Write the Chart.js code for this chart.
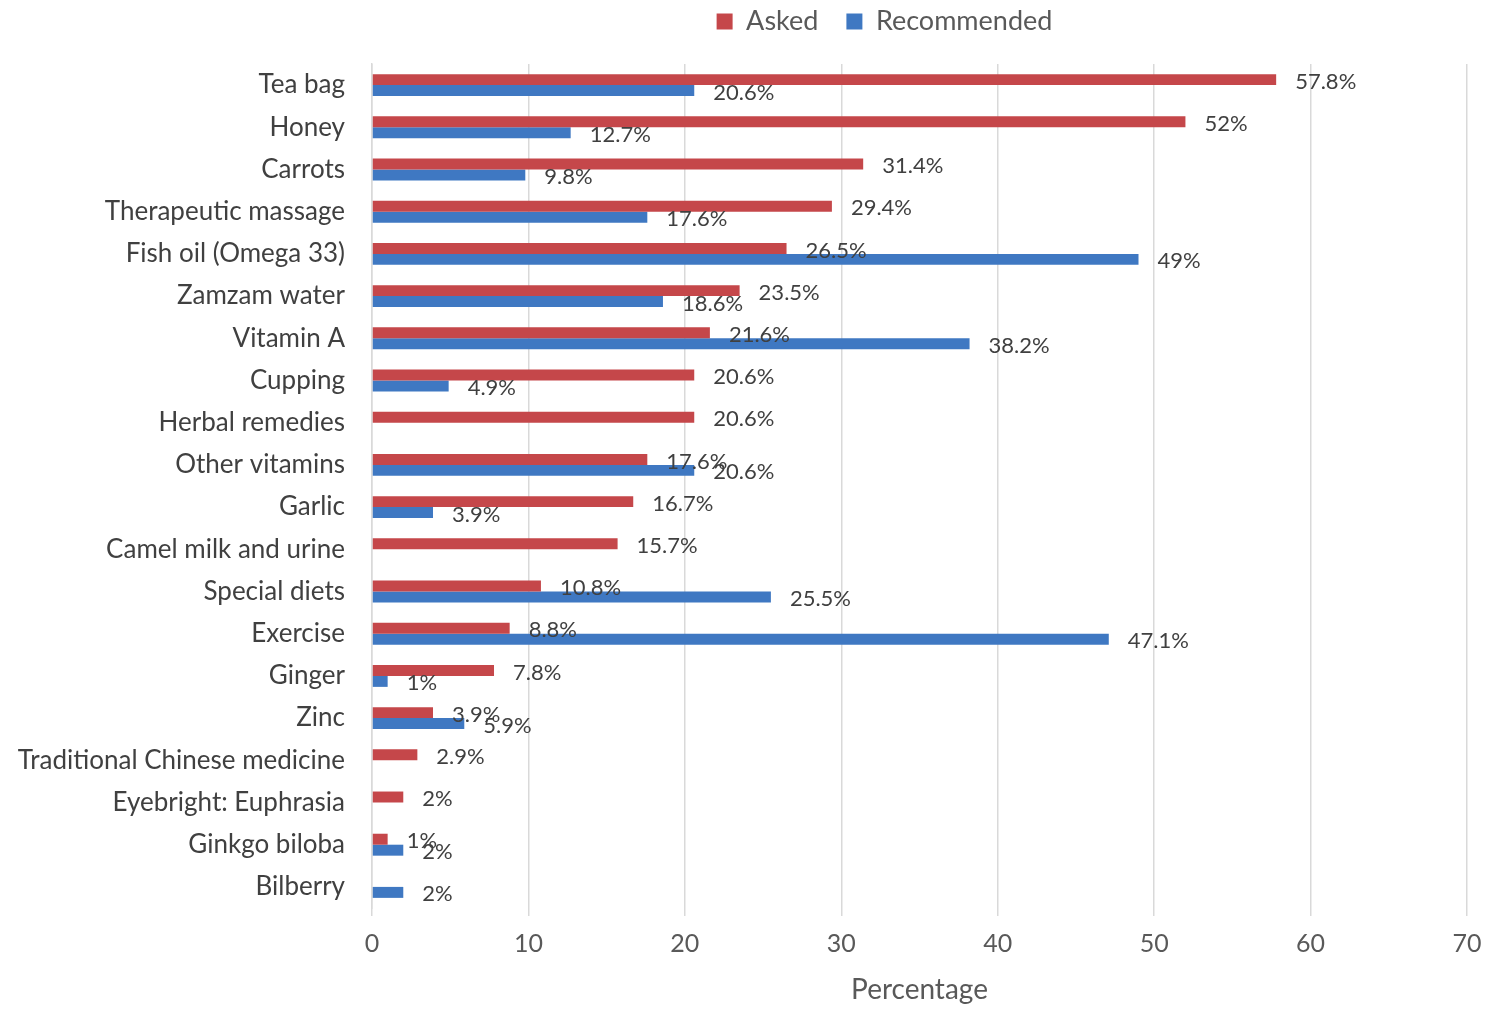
<!DOCTYPE html>
<html>
<head>
<meta charset="utf-8">
<script src="https://cdn.jsdelivr.net/npm/chart.js@4"></script>
<style>
  html, body { margin: 0; padding: 0; background: #fff; }
  #wrap { width: 1499px; height: 1009px; }
</style>
</head>
<body>
<div id="wrap"><canvas id="chart" width="1499" height="1009"></canvas></div>
<script>
// Categories, top to bottom
const categories = [
    "Tea bag", "Honey", "Carrots", "Therapeutic massage", "Fish oil (Omega 33)",
    "Zamzam water", "Vitamin A", "Cupping", "Herbal remedies", "Other vitamins",
    "Garlic", "Camel milk and urine", "Special diets", "Exercise", "Ginger",
    "Zinc", "Traditional Chinese medicine", "Eyebright: Euphrasia", "Ginkgo biloba", "Bilberry"
];

// Percent values (null = no bar)
const asked = [57.8, 52, 31.4, 29.4, 26.5, 23.5, 21.6, 20.6, 20.6, 17.6,
    16.7, 15.7, 10.8, 8.8, 7.8, 3.9, 2.9, 2, 1, null];
const recommended = [20.6, 12.7, 9.8, 17.6, 49, 18.6, 38.2, 4.9, null, 20.6,
    3.9, null, 25.5, 47.1, 1, 5.9, null, null, 2, 2];

const xTicks = [0, 10, 20, 30, 40, 50, 60, 70];

const fontFamily = "Lato, 'Open Sans', sans-serif";

// Draw "value%" next to each bar end
const barLabels = {
    id: "barLabels",
    afterDatasetsDraw(chart) {
        const ctx = chart.ctx;
        ctx.save();
        ctx.font = "22px " + fontFamily;
        ctx.fillStyle = "#404040";
        ctx.textAlign = "left";
        ctx.textBaseline = "middle";
        chart.data.datasets.forEach((ds, i) => {
            const meta = chart.getDatasetMeta(i);
            meta.data.forEach((bar, j) => {
                const v = ds.data[j];
                if (v === null || v === undefined) return;
                ctx.fillText(v + "%", bar.x + 19, bar.y + 2);
            });
        });
        ctx.restore();
    }
};

// Legend spacing: more room under it, and nudge it a bit left
const legendGap = {
    id: "legendGap",
    beforeInit(chart) {
        const fit = chart.legend.fit;
        chart.legend.fit = function () {
            fit.call(this);
            this.height += 19;
        };
    },
    afterLayout(chart) {
        chart.legend.left -= 35;
        chart.legend.right -= 35;
    }
};

const ctx = document.getElementById("chart").getContext("2d");
new Chart(ctx, {
    type: "bar",
    data: {
        labels: categories,
        datasets: [
            {
                label: "Asked",
                data: asked,
                backgroundColor: "#c5474a",
                categoryPercentage: 0.52,
                barPercentage: 1.0
            },
            {
                label: "Recommended",
                data: recommended,
                backgroundColor: "#3f78c2",
                categoryPercentage: 0.52,
                barPercentage: 1.0
            }
        ]
    },
    options: {
        indexAxis: "y",
        responsive: false,
        animation: false,
        layout: { padding: { left: 0, right: 32, top: -20, bottom: 2 } },
        plugins: {
            legend: {
                position: "top",
                fullSize: false,
                labels: {
                    font: { family: fontFamily, size: 27 },
                    color: "#595959",
                    boxWidth: 16,
                    boxHeight: 16,
                    padding: 28
                }
            },
            tooltip: { enabled: false }
        },
        scales: {
            x: {
                min: 0,
                max: 70,
                afterBuildTicks: scale => {
                    scale.ticks = xTicks.map(v => ({ value: v }));
                },
                ticks: {
                    font: { family: fontFamily, size: 25 },
                    color: "#595959",
                    padding: 13
                },
                grid: { color: "#d9d9d9", lineWidth: 1.5, tickLength: 8 },
                border: { display: false },
                title: {
                    display: true,
                    text: "Percentage",
                    font: { family: fontFamily, size: 28 },
                    color: "#595959",
                    padding: { top: 10, bottom: 0 }
                },
                afterFit: scale => { scale.height = 99; }
            },
            y: {
                ticks: {
                    font: { family: fontFamily, size: 26 },
                    color: "#404040",
                    padding: 19
                },
                grid: { display: false },
                border: { display: true, color: "#d9d9d9", width: 1.5 },
                afterFit: scale => { scale.width = 372; }
            }
        }
    },
    plugins: [barLabels, legendGap]
});
</script>
</body>
</html>
